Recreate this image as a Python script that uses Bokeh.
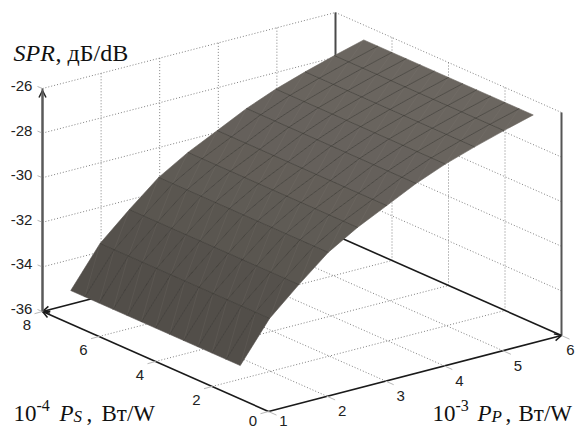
from bokeh.plotting import figure
from bokeh.models import Range1d, Arrow, OpenHead
from bokeh.core.properties import value
from bokeh.embed import file_html
from bokeh.resources import INLINE

# Data
ps_nodes = [1, 1.5, 2, 2.5, 3, 3.5, 4, 4.5, 5, 5.5, 6, 6.5, 7]
pp_nodes = [1, 1.5, 2, 2.5, 3, 3.5, 4, 4.5, 5, 5.5, 6]
spr_by_pp = [-34.5, -32.73, -31.55, -30.45, -29.67, -29.03, -28.38, -27.85, -27.42, -27.03, -26.67]
spr_shift_by_ps = [0.0, 0.0, 0.0, 0.0, 0.0, 0.0, 0.0, 0.0, 0.0, 0.0, 0.0, 0.0, 0.0]
z_ticks = [-36, -34, -32, -30, -28, -26]
ps_ticks = [0, 2, 4, 6, 8]
pp_ticks = [1, 2, 3, 4, 5, 6]
PS0, PS1, PP0, PP1, Z0, Z1 = 0, 8, 1, 6, -36, -26


def proj(ps, pp, z):
    """Orthographic view of the box, onto page coordinates."""
    x = 268 - 28.25 * ps + 58.6 * (pp - 1)
    y = 411 - 12.5 * ps - 15.2 * (pp - 1) - 22.3 * (z + 36)
    return x, y


p = figure(width=576, height=427, output_backend="svg", toolbar_location=None,
           x_range=Range1d(0, 576), y_range=Range1d(427, 0),
           min_border=0, min_border_left=0, min_border_right=0, min_border_top=0, min_border_bottom=0,
           outline_line_color=None, background_fill_color="white", border_fill_color="white")
p.xaxis.visible = False
p.yaxis.visible = False
p.xgrid.visible = False
p.ygrid.visible = False


def seg(a, b):
    pa, pb = proj(*a), proj(*b)
    return [pa[0], pb[0]], [pa[1], pb[1]]


def draw(segs, **kw):
    xs, ys = zip(*segs)
    p.multi_line(list(xs), list(ys), **kw)


# Dotted walls and floor
dots = []
for z in z_ticks[1:]:
    dots.append(seg((PS1, PP0, z), (PS1, PP1, z)))
    dots.append(seg((PS1, PP1, z), (PS0, PP1, z)))
for pp in pp_ticks[1:-1]:
    dots.append(seg((PS1, pp, Z0), (PS1, pp, Z1)))
    dots.append(seg((PS0, pp, Z0), (PS1, pp, Z0)))
for ps in ps_ticks[1:-1]:
    dots.append(seg((ps, PP1, Z0), (ps, PP1, Z1)))
    dots.append(seg((ps, PP0, Z0), (ps, PP1, Z0)))
draw(dots, line_color="#808080", line_width=1, line_dash="1 2")

# Outward tick marks
ticks = []
for z in z_ticks:
    a = proj(PS1, PP0, z)
    ticks.append(([a[0] - 5, a[0]], [a[1] - 2, a[1]]))
for ps in ps_ticks:
    a = proj(ps, PP0, Z0)
    ticks.append(([a[0] - 8, a[0]], [a[1] + 2.2, a[1]]))
for pp in pp_ticks:
    a = proj(PS0, pp, Z0)
    ticks.append(([a[0] + 8, a[0]], [a[1] + 3.6, a[1]]))
draw(ticks, line_color="#b8b8b8", line_width=1)

# Box frame
draw([seg((PS1, PP1, Z0), (PS1, PP1, Z1))], line_color="#4a4a4a", line_width=2)
draw([seg((PS0, PP1, Z0), (PS0, PP1, Z1))], line_color="#555555", line_width=2)
draw([seg((PS1, PP0, Z0), (PS1, PP0, Z1))], line_color="#5a5a5a", line_width=2)
draw([seg((PS1, PP1, Z0), (PS0, PP1, Z0))], line_color="#1a1a1a", line_width=1.6)
for a, b in [((PS0, PP0, Z0), (PS1, PP0, Z0)),
             ((PS1, PP1, Z0), (PS1, PP0, Z0)),
             ((PS0, PP0, Z0), (PS0, PP1, Z0))]:
    pa, pb = proj(*a), proj(*b)
    p.add_layout(Arrow(end=OpenHead(size=7, line_width=1.5, line_color="#1a1a1a"),
                       x_start=pa[0], y_start=pa[1], x_end=pb[0], y_end=pb[1],
                       line_color="#1a1a1a", line_width=1.6, level="underlay"))
pa, pb = proj(PS1, PP0, Z0), proj(PS1, PP0, Z1)
p.add_layout(Arrow(end=OpenHead(size=7, line_width=1.5, line_color="#222222"),
                   x_start=pa[0], y_start=pa[1], x_end=pb[0], y_end=pb[1] + 2,
                   line_color="#5a5a5a", line_width=2, level="underlay"))

# Surface


def node(i, j):
    return proj(ps_nodes[j], pp_nodes[i], spr_by_pp[i] + spr_shift_by_ps[j])


row_shades = ["#524e49", "#55514c", "#5a5650", "#5f5b55", "#635e58",
              "#65605b", "#67625d", "#69645e", "#6a655f", "#6b6660"]
xs, ys, cols = [], [], []
for i in range(len(pp_nodes) - 1):
    for j in range(len(ps_nodes) - 1):
        c = [node(i, j), node(i + 1, j), node(i + 1, j + 1), node(i, j + 1)]
        xs.append([q[0] for q in c])
        ys.append([q[1] for q in c])
        cols.append(row_shades[i])
p.patches(xs, ys, fill_color=cols, line_color=cols, line_width=0.6)

diag = []
for i in range(len(pp_nodes) - 1):
    for j in range(len(ps_nodes) - 1):
        a, b = node(i, j), node(i + 1, j + 1)
        diag.append(([a[0], b[0]], [a[1], b[1]]))
draw(diag, line_color="#8c8882", line_width=0.5, line_alpha=0.3)

mesh = []
for i in range(1, len(pp_nodes) - 1):
    q = [node(i, j) for j in range(len(ps_nodes))]
    mesh.append(([a[0] for a in q], [a[1] for a in q]))
for j in range(1, len(ps_nodes) - 1):
    q = [node(i, j) for i in range(len(pp_nodes))]
    mesh.append(([a[0] for a in q], [a[1] for a in q]))
draw(mesh, line_color="#3a3733", line_width=0.7, line_alpha=0.85)

# Tick labels


def labels(vals, fn, dx, dy):
    pts = [fn(v) for v in vals]
    p.text([q[0] + dx for q in pts], [q[1] + dy for q in pts], text=[str(v) for v in vals],
           text_font=value("Liberation Sans"), text_font_size="15px", text_color="#222222",
           text_align="center", text_baseline="middle")


labels(z_ticks, lambda z: proj(PS1, PP0, z), -21, -2.5)
labels(ps_ticks[1:], lambda s: proj(s, PP0, Z0), -15.5, 13.5)
labels(ps_ticks[:1], lambda s: proj(s, PP0, Z0), -15.5, 9.5)
labels(pp_ticks[1:-1], lambda q: proj(PS0, q, Z0), 15, 15)
labels(pp_ticks[:1], lambda q: proj(PS0, q, Z0), 15, 9.5)
labels(pp_ticks[-1:], lambda q: proj(PS0, q, Z0), 9, 14)


def piece(x, y, t, size, style="normal"):
    p.text([x], [y], text=[t], text_font=value("Liberation Serif"), text_font_size=size,
           text_font_style=style, text_color="#111111", text_align="left", text_baseline="alphabetic")


piece(13, 52, "SPR", "24px", "italic")
piece(55, 52, ", дБ/dB", "24px")

piece(13, 413, "10", "23px")
piece(36, 405, "-4", "16px")
piece(59, 413, "P", "23px", "italic")
piece(73, 416, "S", "17px", "italic")
piece(86, 413, ",", "23px")
piece(101, 413, "Вт/W", "23px")

piece(432, 413, "10", "23px")
piece(455, 405, "-3", "16px")
piece(477, 413, "P", "23px", "italic")
piece(491, 416, "P", "17px", "italic")
piece(505, 413, ",", "23px")
piece(518, 413, "Вт/W", "23px")

open("out.html", "w").write(file_html(p, INLINE))
